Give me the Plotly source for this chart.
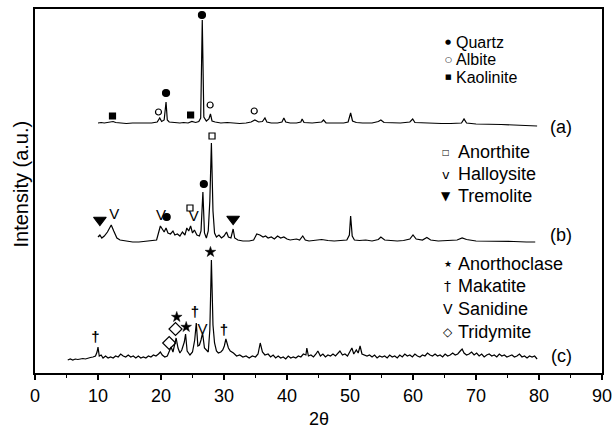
import plotly.graph_objects as go

# ---------------- data (2theta, intensity above own baseline, a.u.) ----------------
a_x = [10.0, 10.5, 11.0, 11.5, 12.0, 12.4, 12.8, 13.5, 14.5, 15.5, 16.5, 17.5, 18.5, 19.4, 19.8, 20.1,
       20.5, 20.8, 21.0, 21.3, 22.0, 23.0, 23.6, 24.3, 24.9, 25.5, 26.0, 26.3, 26.55, 26.8, 27.2, 27.6,
       27.85, 28.1, 28.6, 29.5, 30.5, 31.5, 32.5, 33.5, 34.3, 34.9, 35.5, 36.1, 36.5, 36.8, 37.5, 38.5,
       39.2, 39.5, 39.8, 40.5, 41.5, 42.2, 42.4, 42.7, 44.0, 45.5, 45.8, 46.2, 47.5, 49.0, 49.7, 50.1,
       50.4, 51.0, 52.0, 53.5, 54.5, 54.9, 55.4, 56.5, 58.0, 59.5, 59.95, 60.3, 61.5, 63.0, 64.5, 66.0,
       67.7, 68.1, 68.5, 70.0, 72.0, 74.0, 76.0, 78.0, 79.7]
a_y = [0, 0.5, 0, 0.5, 1, 1.5, 0.5, 0, -0.5, 0, 0, -0.5, 0, 1, 5, 1.5,
       3, 21, 3, 1, 0.5, 0, 0.5, 0, 1.5, 0.5, 1.5, 5, 103, 6, 2, 4,
       9, 2, 1, 0, 0.5, 0, -0.5, 0, 1, 3, 1, 1.5, 5, 1, 0, 0,
       1, 5, 1, 0, 0, 1, 4, 0.5, 0, 1, 3, 0, 0, 0, 1, 10,
       2, 0.5, 0, 0, 1.5, 3, 0.5, 0, 0, 1, 4, 0.5, 0, 0, -0.5, -0.5,
       0, 4, 0, -1, -1, -1.5, -2, -2.5, -3]

b_x = [10.0, 10.3, 10.6, 11.0, 11.5, 12.1, 12.5, 13.0, 13.5, 14.5, 15.5, 16.5, 17.5, 18.5, 19.3, 19.6,
       19.9, 20.2, 20.5, 20.8, 21.1, 21.5, 21.9, 22.2, 22.6, 23.0, 23.4, 23.8, 24.1, 24.4, 24.7, 25.0,
       25.3, 25.7, 26.1, 26.35, 26.65, 26.9, 27.2, 27.5, 27.75, 28.0, 28.25, 28.5, 28.8, 29.2, 29.6, 30.0,
       30.4, 30.7, 31.1, 31.45, 31.7, 32.2, 33.0, 34.0, 34.7, 35.2, 35.7, 36.2, 36.6, 37.0, 37.5, 38.0,
       38.5, 39.0, 39.5, 40.0, 40.5, 41.5, 42.0, 42.5, 42.9, 43.5, 44.5, 45.5, 46.5, 47.5, 48.5, 49.5,
       49.9, 50.1, 50.35, 50.7, 51.5, 52.5, 53.5, 54.5, 54.9, 55.5, 56.5, 57.5, 58.5, 59.5, 60.0, 60.5,
       61.5, 62.2, 62.8, 64.0, 65.5, 67.0, 67.8, 68.5, 70.0, 72.0, 74.0, 76.0, 78.0, 79.4]
b_y = [4, 6, 3, 5, 9, 16, 10, 3, 1, 0, -1, -1, -0.5, 0, 1, 8,
       15, 12, 9, 13, 8, 7, 10, 6, 7, 5, 9, 6, 13, 10, 15, 8,
       11, 6, 5, 10, 49, 8, 3, 10, 40, 98, 30, 8, 4, 6, 3, 5,
       9, 4, 3, 12, 3, 1, 0, 0, 1, 7, 6, 4, 5, 3, 4, 2,
       5, 3, 4, 2, 1, 2, 1, 5, 1, 0, 1, 1.5, 0.5, 0, 0.5, 1,
       6, 25, 5, 1, 0.5, 1, 0, 1.5, 4, 1, 0.5, 0, 0.5, 2, 6, 2,
       1, 3.5, 1, 0, 0.5, 1, 3, 1.5, 0, 0, -0.5, -0.5, -1, -1]

c_x = [5.2, 5.6, 6.0, 6.4, 6.8, 7.2, 7.6, 8.0, 8.4, 8.8, 9.2, 9.6, 9.85, 10.0, 10.2, 10.5,
       10.8, 11.2, 11.6, 12.0, 12.4, 12.8, 13.2, 13.6, 14.0, 14.4, 14.8, 15.2, 15.6, 16.0, 16.4, 16.8,
       17.2, 17.6, 18.0, 18.4, 18.8, 19.2, 19.6, 19.9, 20.2, 20.6, 21.0, 21.3, 21.6, 21.9, 22.15, 22.4,
       22.7, 23.0, 23.3, 23.7, 23.9, 24.15, 24.6, 25.0, 25.35, 25.6, 25.85, 26.1, 26.35, 26.6, 26.9, 27.2,
       27.5, 27.75, 28.0, 28.25, 28.5, 28.8, 29.1, 29.5, 29.8, 30.05, 30.3, 30.7, 31.0, 31.5, 32.0, 32.5,
       33.0, 33.5, 34.0, 34.5, 35.0, 35.4, 35.75, 36.1, 36.5, 37.0, 37.4, 37.8, 38.2, 38.6, 39.0, 39.4,
       39.8, 40.2, 40.6, 41.0, 41.4, 41.8, 42.2, 42.6, 43.0, 43.15, 43.4, 43.8, 44.2, 44.6, 44.9, 45.3,
       45.7, 46.1, 46.5, 46.9, 47.3, 47.7, 48.1, 48.4, 48.8, 49.2, 49.6, 50.0, 50.3, 50.6, 51.0, 51.3,
       51.6, 51.9, 52.3, 52.7, 53.1, 53.5, 53.9, 54.3, 54.7, 55.1, 55.5, 55.9, 56.3, 56.7, 57.1, 57.5,
       57.9, 58.3, 58.7, 59.1, 59.5, 59.9, 60.3, 60.7, 61.1, 61.5, 61.9, 62.3, 62.7, 63.1, 63.5, 63.9,
       64.3, 64.7, 65.1, 65.5, 65.9, 66.3, 66.7, 67.1, 67.5, 67.8, 68.1, 68.5, 68.9, 69.3, 69.7, 70.1,
       70.5, 70.9, 71.3, 71.7, 72.1, 72.5, 72.9, 73.3, 73.7, 74.1, 74.5, 74.9, 75.3, 75.7, 76.1, 76.5,
       76.9, 77.3, 77.7, 78.1, 78.5, 78.9, 79.3, 79.7]
c_y = [0, 1, 0, 1, 0.5, 1, 1.5, 1, 2, 2.5, 3, 4, 8, 13, 4, 5,
       2, 4, 2, 3, 2, 4, 3, 6, 4, 3, 5, 3, 4, 2, 4, 2,
       3, 2, 4, 3, 5, 4, 6, 8, 5, 3, 4, 9, 13, 8, 16, 22,
       12, 7, 10, 18, 26, 9, 5, 8, 20, 37, 14, 15, 20, 27, 12, 10,
       8, 30, 100, 35, 17, 9, 7, 8, 10, 14, 21, 12, 9, 7, 4, 5,
       3, 4, 2, 4, 3, 6, 17, 8, 5, 6, 3, 5, 2, 4, 2, 3,
       1, 4, 2, 3, 2, 4, 3, 6, 5, 12, 4, 5, 3, 6, 9, 4,
       6, 3, 5, 4, 6, 4, 7, 9, 5, 6, 4, 8, 12, 6, 10, 7,
       14, 6, 5, 4, 5, 3, 5, 2, 4, 3, 4, 2, 5, 3, 4, 2,
       5, 3, 6, 4, 5, 3, 6, 4, 3, 5, 4, 7, 5, 4, 6, 4,
       5, 3, 6, 4, 5, 7, 5, 6, 9, 11, 7, 5, 6, 8, 5, 7,
       4, 6, 3, 5, 6, 4, 5, 3, 6, 4, 5, 3, 4, 5, 3, 4,
       6, 3, 4, 2, 4, 3, 4, 1]

offsets = {"a": 250, "b": 132, "c": 13}
labels = ["(a)", "(b)", "(c)"]

# phase markers: (2theta, intensity in plot units)
quartz_x = [20.8, 26.5, 20.9, 26.8]
quartz_y = [280, 358, 156, 189]
albite_x = [19.6, 27.8, 34.8]
albite_y = [261, 268, 262]
kaolinite_x = [12.3, 24.7]
kaolinite_y = [257, 258]
anorthite_x = [24.6, 28.1]
anorthite_y = [165, 237]
halloysite_x = [12.6, 20.0, 25.2]
halloysite_y = [158, 157, 156]
tremolite_x = [10.3, 31.45]
tremolite_y = [153, 154]
anorthoclase_x = [22.5, 24.0, 27.85]
anorthoclase_y = [56, 46, 121]
makatite_x = [9.6, 25.4, 30.0]
makatite_y = [35, 60, 42]
sanidine_x = [26.6]
sanidine_y = [43]
tridymite_x = [21.3, 22.3]
tridymite_y = [30, 44]

legend1 = [("●", 7, "Quartz"), ("○", 8, "Albite"), ("■", 7, "Kaolinite")]
legend2 = [("□", 8, "Anorthite"), ("v", 13, "Halloysite"), ("▼", 12, "Tremolite")]
legend3 = [("★", 9, "Anorthoclase"), ("†", 14, "Makatite"), ("V", 14, "Sanidine"), ("◇", 12, "Tridymite")]

FONT = "Liberation Sans, Arial, sans-serif"
fig = go.Figure()

for key, xs, ys in [("a", a_x, a_y), ("b", b_x, b_y), ("c", c_x, c_y)]:
    fig.add_trace(go.Scatter(x=xs, y=[v + offsets[key] for v in ys], mode="lines",
                             line=dict(color="black", width=1.2), showlegend=False))

def mk(xs, ys, symbol, size, width=1.2):
    fig.add_trace(go.Scatter(x=xs, y=ys, mode="markers", showlegend=False,
                             marker=dict(symbol=symbol, size=size, color="black",
                                         line=dict(color="black", width=width))))

def tx(xs, ys, t, size):
    fig.add_trace(go.Scatter(x=xs, y=ys, mode="text", text=[t] * len(xs), showlegend=False,
                             textfont=dict(family=FONT, size=size, color=["black"] * len(xs))))

mk(quartz_x, quartz_y, "circle", 7)
mk(albite_x, albite_y, "circle-open", 6)
mk(kaolinite_x, kaolinite_y, "square", 6)
mk(anorthite_x, anorthite_y, "square-open", 6)
tx(halloysite_x, halloysite_y, "V", 15)
mk(tremolite_x, tremolite_y, "triangle-down", 11)
mk(anorthoclase_x, anorthoclase_y, "star", 8, 0.5)
tx(makatite_x, makatite_y, "<b>†</b>", 15)
tx(sanidine_x, sanidine_y, "V", 15)
mk(tridymite_x, tridymite_y, "diamond-open", 10)

ann = []
def add_legend(items, sym_x, txt_x, ys, fsize):
    for (s, ss, t), y in zip(items, ys):
        ann.append(dict(x=sym_x, y=y, xref="x", yref="y", text=s, showarrow=False, borderpad=0,
                        font=dict(family="DejaVu Sans", size=ss, color="black"), xanchor="center", yanchor="middle"))
        ann.append(dict(x=txt_x, y=y, xref="x", yref="y", text=t, showarrow=False, borderpad=0,
                        font=dict(family=FONT, size=fsize, color="black"), xanchor="left", yanchor="middle"))

add_legend(legend1, 65.6, 66.6, [331, 313.5, 296], 16)
add_legend(legend2, 65.3, 67.0, [221, 199, 177], 18)
add_legend(legend3, 65.5, 67.0, [109, 87, 64, 41], 18)

for lab, y in zip(labels, [246, 138, 17]):
    ann.append(dict(x=83.5, y=y, xref="x", yref="y", text=lab, showarrow=False,
                    font=dict(family=FONT, size=18, color="black"), xanchor="center", yanchor="middle"))

ann.append(dict(x=-0.025, y=0.52, xref="paper", yref="paper", text="Intensity (a.u.)", textangle=-90,
                showarrow=False, font=dict(family=FONT, size=20, color="black"), xanchor="center", yanchor="middle"))
ann.append(dict(x=0.5, y=-0.125, xref="paper", yref="paper", text="2θ",
                showarrow=False, font=dict(family=FONT, size=18, color="black"), xanchor="center", yanchor="middle"))

fig.update_layout(
    width=614, height=430,
    margin=dict(l=35, r=12, t=9, b=57, autoexpand=False),
    plot_bgcolor="white", paper_bgcolor="white",
    annotations=ann,
    xaxis=dict(range=[0, 90], dtick=10, tick0=0, ticks="outside", ticklen=5, tickwidth=1.5,
               tickcolor="black", showline=True, linewidth=2, linecolor="black", mirror=True,
               showgrid=False, zeroline=False,
               tickfont=dict(family=FONT, size=18, color="black"),
               minor=dict(dtick=5, ticks="outside", ticklen=3, tickwidth=1.2, tickcolor="black")),
    yaxis=dict(range=[0, 364], showticklabels=False, ticks="", showline=True, linewidth=2,
               linecolor="black", mirror=True, showgrid=False, zeroline=False),
)

fig.write_html("out.html")
